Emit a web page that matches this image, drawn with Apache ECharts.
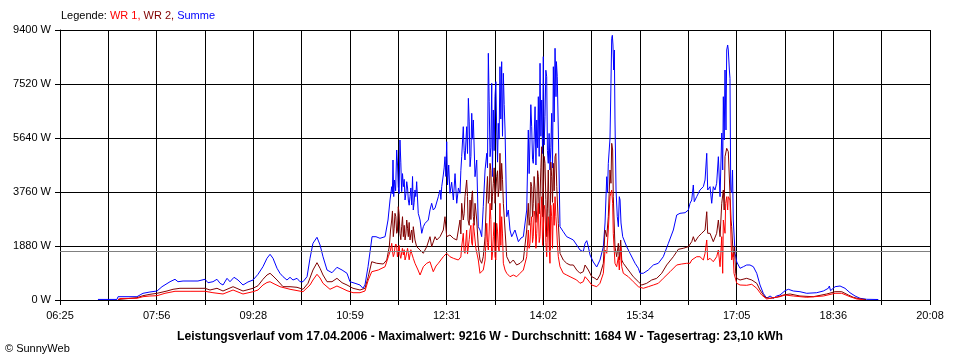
<!DOCTYPE html>
<html><head><meta charset="utf-8">
<script src="https://cdn.jsdelivr.net/npm/echarts@6/dist/echarts.min.js"></script>
<style>html,body{margin:0;padding:0;background:#fff}#c{width:960px;height:360px}</style>
</head><body><div id="c"></div><script>
// time axis: minutes after midnight
const START_MIN = 385;  // 06:25
const END_MIN = 1208;   // 20:08
const xTickLabels = ['06:25','07:56','09:28','10:59','12:31','14:02','15:34','17:05','18:36','20:08'];
const yMax = 9400, yStep = 1880;
const average = 1684;
const legendParts = ['Legende: ', 'WR 1,', ' WR 2,', ' Summe'];
const titleText = 'Leistungsverlauf vom 17.04.2006 - Maximalwert: 9216 W - Durchschnitt: 1684 W - Tagesertrag: 23,10 kWh';
const copyrightText = '\u00A9 SunnyWeb';

// [minutes after midnight, W]
const summe = [[420.9,20],[438.9,20],[439.9,115],[457.8,115],[458.8,174],[463.5,233],[470.1,279],[476.8,313],[481.5,463],[489.1,637],[493.8,721],[496.6,637],[501.4,661],[508,661],[515.5,661],[522.2,721],[525,602],[529.7,637],[533.5,721],[536.4,581],[539.2,522],[543,755],[545.8,637],[549.6,790],[553.4,696],[558.1,522],[562.8,627],[567.6,696],[572.3,895],[577,1159],[580.8,1452],[583.7,1591],[586.5,1452],[590.3,1104],[593.1,930],[596,811],[599.7,696],[602.6,790],[605.4,696],[609.2,755],[612,637],[614.9,637],[618.7,811],[621.5,1452],[624.3,1974],[628.1,2183],[631,1915],[633.8,1507],[637.6,1044],[642.3,950],[647,1138],[651.8,1044],[656.5,930],[659.3,637],[664.1,581],[668.8,522],[671.6,407],[673.5,522],[676.4,1159],[680.2,2204],[683.9,2204],[687.7,2148],[692.5,2204],[695.3,2785],
[697.2,3482],[698.8,3945],[700,4874],[701.4,4178],[703.5,5222],[705,3945],[706.6,5570],[708.2,3771],[709.8,3945],[711.4,3482],[713,4119],[714.5,3482],[716.1,3597],[717.7,3307],[719.2,3133],[720.8,3830],[722.4,4119],[723.9,3018],[725.6,2785],[727.2,2322],[728.7,2552],[730.3,2670],[733.4,2785],[735,3133],[736.6,3367],[738.1,3133],[739.8,3203],[741.4,3248],[742.9,3597],[744.5,3830],[746.1,3945],[747.6,4352],[749.2,4989],[750.8,5511],[751.6,4004],[753.9,3715],[757.1,3482],[760.3,3367],[763.4,3715],[765,4989],[766.5,6034],[768.1,4874],[769.7,6034],[771.3,7022],[772.9,4641],[774.5,6500],[776,6267],[777.6,4293],[779.2,4874],[780.7,2552],[782.3,2437],[783.9,2204],[785.4,3248],[787.1,4526],[788.7,5107],[790.2,8589],[791.8,4989],[793.4,7544],[794.9,6615],[796.5,7078],[798.1,5919],[799.6,6152],[801.2,8122],[802.8,8297],[804.4,7893],[806,5919],[807.6,2900],[809.1,3133],[810.7,2437],[812.3,2204],[815.4,2437],[818.6,2030],[821.1,2159],[823.3,2204],[826.5,3133],[828,5919],[829.6,5570],[831.2,6034],[832.7,4759],[834.4,6730],[836,6267],[837.5,7078],[839.1,8241],[840.7,6963],[842.2,8471],[843.8,6382],[845.4,7774],[846.9,4759],[848.5,4526],[850.1,6500],[851.7,8122],[853.3,8763],[854.2,7078],[855.4,7774],[856.4,5919],[858,2552],[861.1,2378],[864.3,2204],[867.5,2148],[870.6,2089],[873.8,1915],[876.9,1741],[880,1682],[881.7,1974],[883.3,2065],[884.8,1856],[886.4,1567],[889.5,1323],[892.7,1149],[895.8,1393],[899,1856],[900.6,2681],[902.2,4293],[902.9,3725],[903.7,4759],[905.3,5630],[906.2,7544],[906.9,9111],[907.5,9216],[908.1,8878],[908.8,8007],[909.4,8704],[910,6267],[911,3830],[912.2,2900],[913.2,2552],[914.1,3597],[914.8,3482],[915.7,2681],[917.3,2204],[921.1,1856],[924.2,1626],[929,1278],[932.1,1104],[933.7,930],[936.8,930],[941.5,1044],[946.3,1219],[951,1278],[955.7,1507],[960.5,1974],[965.2,2437],[968.4,2959],[971.5,3018],[976.3,3039],[979.4,3133],[981,3367],[982.6,3482],[984.1,4004],[985,3422],[987.3,3597],[990.4,3830],[993.6,3945],[995.2,4178],[996.8,5107],[997.7,3830],[999.9,3945],[1001.5,3367],[1003,3945],[1004.6,3830],[1006.2,4063],[1007.8,4989],[1009.4,3597],[1011,5814],[1011.9,4526],[1012.5,7078],[1013.3,5570],[1014.1,8007],[1015,5919],[1015.7,8704],[1016.6,8878],[1017.2,8704],[1018.2,8007],[1018.8,7718],[1019.5,3830],[1020.4,3725],[1021.2,4526],[1021.9,2785],[1023.6,1626],[1025.2,1323],[1028.3,1104],[1031.4,1159],[1034.6,1219],[1037.7,1219],[1040.9,1159],[1044.1,930],[1047.2,522],[1050.3,233],[1053.5,59],[1056.7,139],[1059.8,59],[1063,139],[1066.1,174],[1070.9,324],[1074,373],[1078.7,313],[1085,289],[1091.4,233],[1100.8,254],[1107.1,313],[1111.8,407],[1112.8,487],[1113.9,324],[1118.2,463],[1122.9,487],[1127.6,407],[1132.3,254],[1137.1,139],[1141.8,59],[1148.1,24],[1159.1,17],
// extra readings inside the dense (fluctuating) stretches
[698,3500],[699.4,3700],[700.7,3600],[702.5,3800],[704.3,4700],[705.8,3700],[707.4,4800],[709,4400],[710.6,4200],[712.2,3700],[713.8,3900],[715.3,3300],[716.9,3900],[718.5,4300],[720,3400],[721.6,3600],
[745.3,3500],[748.4,4600],[750,4300],[752.7,4700],[755.5,4100],[758.7,4400],[761.9,3900],[764.2,4500],[767.3,5200],[770.5,5100],[772.1,6200],[773.7,5000],[775.2,5600],
[789.4,4600],[791,6900],[792.6,5300],[794.1,4300],[795.7,5200],[797.3,7600],[798.9,4800],[800.4,5600],[802,6300],[803.6,5700],[805.2,6800],
[828.8,4400],[830.4,6800],[832,4900],[833.5,5600],[835.2,4700],[836.8,5300],[838.3,5000],[839.9,5700],[841.5,5100],[843,5400],[844.6,8000],[846.1,5200],[847.7,5800],[849.3,5300],[850.9,4600],[852.5,6200],[854.6,8300]];

const wr2 = [[439.9,17],[440.8,80],[457.8,80],[463.5,150],[470.1,198],[476.8,233],[486.2,313],[491.9,373],[498.5,407],[508,407],[522.2,407],[526.9,348],[533.5,407],[539.2,313],[548.7,463],[558.1,313],[567.6,407],[572.3,498],[577,721],[580.8,870],[583.7,930],[586.5,836],[590.3,696],[596,463],[602.6,463],[609.2,442],[614.9,373],[619.6,581],[624.3,1044],[628.1,1299],[631,1104],[633.8,870],[637.6,637],[642.3,637],[647,755],[651.8,602],[656.5,522],[662.2,407],[668.8,348],[673.5,407],[676.6,811],[679.9,1333],[684.6,1278],[690.8,1253],[694.1,1393],[696.5,1856],[697.7,2437],[698.8,2785],[700.3,2204],[701.9,3018],[703.5,2322],[705,3248],[706.6,2322],[708.2,2552],[709.8,2204],[711.4,2089],[713,2785],[714.5,2204],[716.1,2089],[717.7,2437],[719.2,2552],[720.8,2089],[722.4,1856],[725.6,1741],[728.7,1626],[731.9,1856],[735,2204],[736.6,1856],[738.1,1856],[739.8,2204],[741.4,2089],[744.5,2204],[747.6,2437],[749.2,2900],[750.8,2204],[753.9,2263],[757.1,2148],[760.3,2089],[763.4,2785],[765,3367],[766.5,2785],[768.1,3597],[769.7,4178],[771,2785],[772.9,3482],[774.5,3597],[776,2900],[777.6,3367],[779.2,2785],[780.7,1856],[782.3,1393],[783.9,1278],[785.4,1507],[787.1,2204],[788.7,3830],[790.2,3367],[791.8,4759],[793.4,3133],[794.9,4063],[796.5,3367],[798.1,4293],[799.6,3597],[801.2,5107],[802.8,4759],[804.4,3367],[806,2437],[807.6,1507],[810.7,1278],[813.8,1393],[817,1219],[820.2,1278],[823.3,1393],[826.5,2437],[828,3367],[829.6,2900],[831.2,3945],[832.7,3367],[834.4,3830],[836,3133],[837.5,4293],[839.1,3597],[840.7,5337],[842.2,3597],[843.8,4759],[845.4,2204],[846.9,4526],[848.5,1741],[850.1,4293],[851.7,4759],[853.3,4989],[854.9,3945],[856.4,2670],[858,1626],[861.1,1393],[864.3,1278],[867.5,1219],[870.6,1219],[873.8,1044],[876.9,930],[880,985],[881.7,1219],[883.3,1159],[884.8,1044],[888,811],[891.1,755],[893,696],[895.8,870],[899,1278],[900.6,2437],[902.2,2204],[903.7,2900],[905.3,4526],[906.2,4063],[906.9,5455],[907.8,5222],[908.4,3597],[910,1856],[911.6,1507],[913.2,1974],[914.1,1393],[915.4,2089],[916.4,1393],[917.9,1278],[922.6,1044],[927.3,811],[932.1,637],[935.3,522],[940,581],[944.7,696],[949.5,755],[954.2,930],[958.9,1219],[965.2,1507],[969.9,1765],[974.6,1800],[979.4,1856],[982.6,2030],[984.1,2204],[985.7,2030],[988.8,2204],[992,2322],[995.2,2437],[996.8,3074],[997.7,2322],[999.9,2322],[1003,2030],[1006.2,2322],[1007.8,2785],[1009.4,2204],[1011,3367],[1012.5,3830],[1013.3,3133],[1014.1,4989],[1015.7,5281],[1017.2,5163],[1018.8,5107],[1019.8,2785],[1020.4,2552],[1021.9,1507],[1022.9,1856],[1024.2,930],[1025.2,755],[1028.3,696],[1034.6,755],[1039.4,696],[1044.1,581],[1047.2,348],[1051.9,94],[1056.7,59],[1063,94],[1069.2,174],[1075.6,209],[1085,139],[1097.6,115],[1110.3,209],[1118.2,289],[1124.5,289],[1130.7,174],[1135.5,94],[1141.8,35],[1147.5,17],
// extra readings inside the dense stretches
[699.5,3100],[701.1,2500],[702.7,2900],[704.2,2400],[705.8,3000],[707.4,2100],[709,2900],[710.6,2600],[712.2,2300],[713.8,2500],[715.3,2700],[716.9,2300],[718.5,2000],
[764.2,2300],[767.3,3000],[770.5,3600],[772.1,2600],[773.7,2800],[775.2,3800],[776.8,2600],[778.4,3100],
[789.4,4300],[791,3500],[792.6,4500],[794.1,3600],[795.7,4600],[797.3,3400],[798.9,4500],[800.4,3900],[802,3800],[803.6,4200],
[828.8,2600],[830.4,4100],[832,2900],[833.5,4300],[835.2,2700],[836.8,4500],[838.3,3000],[839.9,4600],[841.5,2900],[843,5000],[844.6,3500],[846.1,3200],[847.7,3000],[849.3,4800],[850.9,3400],[852.5,3800],[854.1,5100]];

const wr1 = [[439.9,17],[441.8,52],[457.8,59],[463.5,115],[470.1,139],[476.8,150],[484.3,233],[493.8,303],[508,303],[522.2,303],[529.7,254],[539.2,209],[548.7,348],[558.1,209],[567.6,289],[572.3,348],[577,522],[580.8,609],[583.7,637],[586.5,581],[593.1,463],[602.6,373],[614.9,289],[621.5,522],[624.3,696],[628.1,895],[631,766],[633.8,581],[640.4,373],[647,487],[651.8,407],[656.5,324],[662.2,254],[668.8,254],[673.5,313],[676.6,696],[679.9,985],[686.1,1044],[692.5,1159],[695.6,1507],[697.7,1741],[698.8,1974],[700.3,1507],[701.9,1856],[703.5,1856],[705,1507],[706.6,1567],[709.8,1567],[711.4,1393],[714.5,1626],[717.7,1626],[720.8,1278],[723.7,1044],[725.6,870],[728.7,1159],[731.9,1278],[735,1333],[738.1,985],[740.7,1184],[742.9,1278],[747.6,1507],[750.8,1626],[753.9,1507],[757.1,1452],[761.8,1393],[765,1856],[766.5,2322],[768.1,1626],[769.7,2437],[771,1636],[772.9,2437],[774.5,1974],[776,2670],[777.6,2089],[779.2,1741],[780.7,1393],[782.3,930],[783.9,870],[785.4,1044],[787.1,1393],[788.7,2670],[790.2,1741],[791.8,3367],[793.4,1393],[794.9,2204],[796.5,1507],[798.1,2670],[799.6,1856],[801.2,3367],[802.8,2900],[804.4,1278],[806,1044],[807.6,930],[810.7,811],[813.8,870],[817,811],[820.2,930],[823.3,1044],[826.5,1507],[828,2437],[829.6,1974],[831.2,2900],[832.7,2204],[834.4,2900],[836,2322],[837.5,3367],[839.1,2204],[840.7,3597],[842.2,2437],[843.8,3133],[845.4,1507],[846.9,2900],[848.5,1278],[850.1,2900],[851.7,3367],[853.3,3597],[854.9,2437],[856.4,1507],[858,1159],[861.1,930],[864.3,870],[867.5,811],[873.8,696],[876.9,581],[880,637],[881.7,811],[884.5,696],[888,522],[892.7,463],[895.8,581],[899,930],[900.6,1741],[902.2,1626],[903.7,2437],[905.3,3597],[906.9,3830],[907.8,3367],[908.4,2322],[910,1278],[911.6,1159],[913.2,1507],[914.1,1044],[915.4,1856],[916.4,1159],[917.9,930],[922.6,811],[927.3,637],[932.1,463],[936.8,407],[941.5,463],[946.3,522],[951,581],[955.7,755],[962.1,985],[968.4,1219],[973.1,1253],[977.9,1278],[981,1278],[982.6,1393],[987.3,1507],[990.4,1507],[993.6,1393],[995.2,1626],[996.8,2089],[997.7,1393],[999.9,1452],[1003,1333],[1006.2,1507],[1007.8,1741],[1009.4,1159],[1011,2204],[1011.9,930],[1012.5,2785],[1014.1,2322],[1014.7,3367],[1015.7,3597],[1016.6,3133],[1017.2,3597],[1018.8,3482],[1019.8,2089],[1020.4,1393],[1021.7,1626],[1022.6,930],[1025.2,581],[1028.3,522],[1034.6,512],[1039.4,547],[1044.1,407],[1048.8,174],[1053.5,35],[1059.8,80],[1066.1,115],[1070.9,174],[1078.7,139],[1091.4,94],[1107.1,139],[1118.2,233],[1124.5,233],[1132.3,115],[1138.7,35],[1144.6,17],
// extra readings inside the dense stretches
[699.5,1700],[701.1,1600],[702.7,1950],[704.2,1500],[705.8,1900],[707.4,1450],[708.9,1800],[710.6,1750],[712.2,1500],[713.8,1800],[715.3,1400],[716.9,1750],[719.2,1450],
[764.2,1500],[767.3,1700],[770.5,1600],[772.1,2100],[773.7,2600],[775.2,1900],[776.8,2400],[778.4,1800],
[789.4,2000],[791,2400],[792.6,2800],[794.1,1600],[795.7,2700],[797.3,1400],[798.9,2400],[800.4,1700],[802,1900],[803.6,2300],
[828.8,1800],[830.4,2700],[832,2000],[833.5,3100],[835.2,1800],[836.8,3000],[838.3,2000],[839.9,3100],[841.5,1900],[843,3300],[844.6,2000],[846.1,2400],[847.7,1900],[849.3,3300],[850.9,1800],[852.5,2600],[854.1,2900],[855.6,1900]];

const span = END_MIN - START_MIN;
const toAxis = arr => arr.map(p => [p[0] - START_MIN, p[1]]).sort((a, b) => a[0] - b[0]);
const FONT = '"Liberation Sans", Arial, sans-serif';

const chart = echarts.init(document.getElementById('c'), null, {renderer: 'canvas'});
const lineSeries = (name, data, color, extra) => Object.assign({
  name, type: 'line', data: toAxis(data), showSymbol: false, symbol: 'none',
  lineStyle: {color, width: 1}, itemStyle: {color}, animation: false, silent: true
}, extra || {});

chart.setOption({
  animation: false,
  backgroundColor: '#ffffff',
  grid: {left: 60, right: 30, top: 30, bottom: 60},
  xAxis: {
    type: 'value', min: 0, max: span, interval: span / 18,
    axisLine: {show: true, lineStyle: {color: '#000', width: 1}},
    axisTick: {show: true, length: 5, lineStyle: {color: '#000'}},
    splitLine: {show: true, lineStyle: {color: '#000', width: 1}},
    axisLabel: {
      color: '#000', fontFamily: FONT, fontSize: 11, margin: 10, showMaxLabel: true, showMinLabel: true,
      formatter: v => { const k = v / (span / 9); const r = Math.round(k); return Math.abs(k - r) < 1e-3 ? xTickLabels[r] : ''; }
    }
  },
  yAxis: {
    type: 'value', min: 0, max: yMax, interval: yStep,
    axisLine: {show: true, lineStyle: {color: '#000', width: 1}},
    axisTick: {show: true, length: 5, lineStyle: {color: '#000'}},
    splitLine: {show: true, lineStyle: {color: '#000', width: 1}},
    axisLabel: {color: '#000', fontFamily: FONT, fontSize: 11, margin: 9, formatter: v => v + ' W'}
  },
  series: [
    lineSeries('Summe', summe, '#0000ff', {
      markLine: {silent: true, symbol: 'none', label: {show: false},
        lineStyle: {color: '#808080', width: 1, type: 'solid'}, data: [{yAxis: average}]}
    }),
    lineSeries('WR 2', wr2, '#800000'),
    lineSeries('WR 1', wr1, '#ff0000')
  ],
  graphic: [
    {type: 'text', left: 61, top: 10, style: {
      text: '{a|' + legendParts[0] + '}{b|' + legendParts[1] + '}{c|' + legendParts[2] + '}{d|' + legendParts[3] + '}',
      font: '11px ' + FONT,
      rich: {
        a: {fill: '#000', font: '11px ' + FONT},
        b: {fill: '#ff0000', font: '11px ' + FONT},
        c: {fill: '#800000', font: '11px ' + FONT},
        d: {fill: '#0000ff', font: '11px ' + FONT}
      }
    }},
    {type: 'text', x: 480, y: 337, style: {text: titleText, fill: '#000', font: 'bold 12.2px ' + FONT, textAlign: 'center', textVerticalAlign: 'middle'}},
    {type: 'text', x: 5, y: 349, style: {text: copyrightText, fill: '#000', font: '11px ' + FONT, textAlign: 'left', textVerticalAlign: 'middle'}}
  ]
});
</script></body></html>
